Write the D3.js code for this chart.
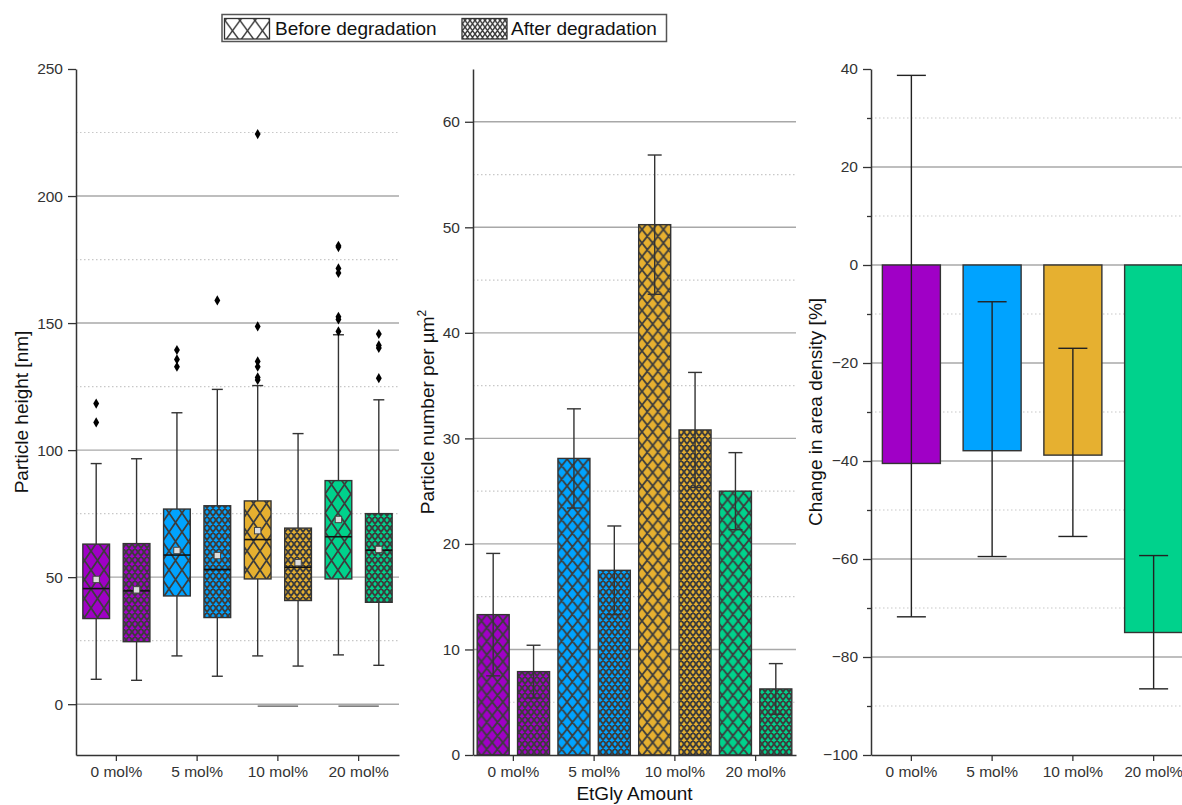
<!DOCTYPE html>
<html>
<head>
<meta charset="utf-8">
<script src="https://cdn.jsdelivr.net/npm/d3@7"></script>
<style>
  body { margin: 0; background: #fff; }
  svg { display: block; font-family: "Liberation Sans", Arial, sans-serif; }
</style>
</head>
<body>
<svg id="chart" width="1182" height="805"></svg>
<script>
// ---- data ----
const groups = ["0 mol%", "5 mol%", "10 mol%", "20 mol%"];
const series = ["Before degradation", "After degradation"];
const groupColors = ["#a000c6", "#00a3ff", "#e6b030", "#00d28c"];

// particle height box statistics [nm]
const whiskerLowBefore  = [9.8, 19.0, 19.0, 19.4];
const q1Before          = [33.7, 42.6, 49.3, 49.3];
const medianBefore      = [45.5, 58.7, 64.8, 65.9];
const meanBefore        = [49.1, 60.5, 68.3, 72.7];
const q3Before          = [63.0, 76.8, 80.0, 88.0];
const whiskerHighBefore = [94.7, 114.7, 125.4, 145.4];
const outliersBefore    = [[118.3, 110.9], [139.4, 135.7, 132.8],
                           [224.4, 148.7, 134.9, 132.8, 128.6, 127.6],
                           [180.4, 179.9, 171.5, 169.7, 152.5, 151.4, 146.7]];

const whiskerLowAfter   = [9.4, 11.0, 15.0, 15.3];
const q1After           = [24.6, 34.1, 40.8, 40.1];
const medianAfter       = [44.6, 53.0, 53.9, 60.6];
const meanAfter         = [45.0, 58.5, 55.7, 60.9];
const q3After           = [63.2, 78.1, 69.3, 75.0];
const whiskerHighAfter  = [96.6, 123.9, 106.5, 119.8];
const outliersAfter     = [[], [158.9], [], [145.7, 141.2, 140.2, 128.3]];

// low marks spanning the pair of boxes in a group
const lowMarkGroups = ["10 mol%", "20 mol%"];
const lowMarkValues = [-0.8, -0.8];

// particle number per µm²
const numberBefore    = [13.3, 28.1, 50.25, 25.0];
const numberBeforeErr = [5.8, 4.7, 6.6, 3.65];
const numberAfter     = [7.9, 17.5, 30.8, 6.26];
const numberAfterErr  = [2.5, 4.2, 5.45, 2.4];

// change in area density [%]
const changeValues = [-40.5, -37.9, -38.8, -75.0];
const changeLower  = [-71.8, -59.5, -55.4, -86.5];
const changeUpper  = [38.7, -7.5, -17.0, -59.3];

// axis ticks
const heightTicks = [0, 50, 100, 150, 200, 250];
const heightMinor = [25, 75, 125, 175, 225];
const numberTicks = [0, 10, 20, 30, 40, 50, 60];
const numberMinor = [5, 15, 25, 35, 45, 55];
const changeTicks = [-100, -80, -60, -40, -20, 0, 20, 40];
const changeMinor = [-90, -70, -50, -30, -10, 10, 30];

// ---- layout ----
const svg = d3.select("#chart");
const plotTop = 69, plotBottom = 755;
const ink = "#333";
const hatchInk = "#3c3c3c";
const fontTick = 15.5, fontTitle = 19;

// crossed hatch: two families of diagonal lines forming a w x h diamond lattice
const defs = svg.append("defs");
function hatch(id, color, w, h, lw) {
  const p = defs.append("pattern")
    .attr("id", id).attr("patternUnits", "userSpaceOnUse")
    .attr("width", w).attr("height", h);
  p.append("rect").attr("width", w).attr("height", h).attr("fill", color);
  let d = "";
  for (let k = -1; k <= 1; k++) {
    d += `M${k * w - w},${-h}L${k * w + 2 * w},${2 * h}`;
    d += `M${k * w + 2 * w},${-h}L${k * w - w},${2 * h}`;
  }
  p.append("path").attr("d", d)
    .attr("stroke", hatchInk).attr("stroke-width", lw).attr("fill", "none");
}
groupColors.forEach((c, i) => {
  hatch(`boxBefore${i}`, c, 13, 19, 1.8);
  hatch(`barBefore${i}`, c, 10.7, 13.5, 1.8);
  hatch(`after${i}`, c, 6, 8, 1.9);
});
hatch("legendBefore", "#fff", 15, 20.5, 1.5);
hatch("legendAfter", "#fff", 5, 6.8, 1.5);

function panel(x0, x1, yDomain, ticks, minor, title, titleX, minorTicks) {
  const g = svg.append("g");
  const x = d3.scaleBand().domain(groups).range([x0, x1]);
  const y = d3.scaleLinear().domain(yDomain).range([plotBottom, plotTop]);
  // grid
  g.append("g").selectAll("line").data(minor).join("line")
    .attr("x1", x0).attr("x2", x1).attr("y1", d => y(d)).attr("y2", d => y(d))
    .attr("stroke", "#c8c8c8").attr("stroke-width", 1.2).attr("stroke-dasharray", "1.5,2.5");
  g.append("g").selectAll("line").data(ticks.filter(t => t !== yDomain[0] && t !== yDomain[1])).join("line")
    .attr("x1", x0).attr("x2", x1).attr("y1", d => y(d)).attr("y2", d => y(d))
    .attr("stroke", "#a8a8a8").attr("stroke-width", 1.4);
  const marks = g.append("g");
  // axes
  g.append("g").attr("transform", `translate(${x0},0)`)
    .call(d3.axisLeft(y).tickValues(ticks).tickSize(8).tickSizeOuter(0).tickPadding(5));
  if (minorTicks) {
    g.append("g").attr("transform", `translate(${x0},0)`)
      .call(d3.axisLeft(y).tickValues(minor).tickSize(4).tickFormat(""))
      .call(a => a.select(".domain").remove());
  }
  g.append("g").attr("class", "x-axis").attr("transform", `translate(0,${plotBottom})`)
    .call(d3.axisBottom(x).tickSize(6).tickSizeOuter(0).tickPadding(5));
  g.selectAll(".domain").attr("stroke", ink).attr("stroke-width", 1.5);
  g.selectAll(".tick line").attr("stroke", ink).attr("stroke-width", 1.3);
  g.selectAll(".tick text").attr("fill", ink).attr("font-size", fontTick)
    .attr("font-family", "'Liberation Sans', Arial, sans-serif");
  g.append("text")
    .attr("transform", `translate(${titleX},${(plotTop + plotBottom) / 2}) rotate(-90)`)
    .attr("text-anchor", "middle").attr("dy", "0.35em")
    .attr("font-size", fontTitle).attr("fill", "#111")
    .html(title);
  return { root: g, g: marks, x, y };
}

// ---- panel 1: particle height box plots ----
{
  const { g, x, y } = panel(76, 399, [-20, 250], heightTicks, heightMinor,
    "Particle height [nm]", 21, false);
  const xs = d3.scaleBand().domain([0, 1]).range([0, x.bandwidth()]);
  const boxW = 26.7, capW = 11;
  const stats = [
    [whiskerLowBefore, q1Before, medianBefore, meanBefore, q3Before, whiskerHighBefore, outliersBefore],
    [whiskerLowAfter, q1After, medianAfter, meanAfter, q3After, whiskerHighAfter, outliersAfter]
  ];
  const boxes = [];
  groups.forEach((gr, i) => [0, 1].forEach(s => {
    const [wl, q1, md, mn, q3, wh, out] = stats[s];
    boxes.push({ gr, i, s, cx: x(gr) + xs(s) + xs.bandwidth() / 2,
      wl: wl[i], q1: q1[i], md: md[i], mn: mn[i], q3: q3[i], wh: wh[i], out: out[i] });
  }));
  const b = g.selectAll("g.box").data(boxes).join("g").attr("class", "box");
  // whiskers
  b.append("line").attr("x1", d => d.cx).attr("x2", d => d.cx)
    .attr("y1", d => y(d.wh)).attr("y2", d => y(d.q3)).attr("stroke", ink).attr("stroke-width", 1.4);
  b.append("line").attr("x1", d => d.cx).attr("x2", d => d.cx)
    .attr("y1", d => y(d.q1)).attr("y2", d => y(d.wl)).attr("stroke", ink).attr("stroke-width", 1.4);
  b.append("line").attr("x1", d => d.cx - capW / 2).attr("x2", d => d.cx + capW / 2)
    .attr("y1", d => y(d.wh)).attr("y2", d => y(d.wh)).attr("stroke", ink).attr("stroke-width", 1.4);
  b.append("line").attr("x1", d => d.cx - capW / 2).attr("x2", d => d.cx + capW / 2)
    .attr("y1", d => y(d.wl)).attr("y2", d => y(d.wl)).attr("stroke", ink).attr("stroke-width", 1.4);
  // box
  b.append("rect").attr("x", d => d.cx - boxW / 2).attr("width", boxW)
    .attr("y", d => y(d.q3)).attr("height", d => y(d.q1) - y(d.q3))
    .attr("fill", d => `url(#${d.s === 0 ? "boxBefore" : "after"}${d.i})`)
    .attr("stroke", ink).attr("stroke-width", 1.4);
  // median
  b.append("line").attr("x1", d => d.cx - boxW / 2).attr("x2", d => d.cx + boxW / 2)
    .attr("y1", d => y(d.md)).attr("y2", d => y(d.md)).attr("stroke", "#111").attr("stroke-width", 1.6);
  // mean
  b.append("rect").attr("x", d => d.cx - 3.2).attr("y", d => y(d.mn) - 3.2)
    .attr("width", 6.4).attr("height", 6.4)
    .attr("fill", "#ddd").attr("stroke", "#444").attr("stroke-width", 1);
  // outliers
  b.selectAll("path.out").data(d => d.out.map(v => ({ v, cx: d.cx }))).join("path")
    .attr("class", "out")
    .attr("d", d3.symbol(d3.symbolDiamond, 30))
    .attr("transform", d => `translate(${d.cx},${y(d.v)})`)
    .attr("fill", "#000");
  // low marks
  g.selectAll("line.low").data(lowMarkGroups).join("line").attr("class", "low")
    .attr("x1", d => x(d) + xs(0) + xs.bandwidth() / 2)
    .attr("x2", d => x(d) + xs(1) + xs.bandwidth() / 2)
    .attr("y1", (d, k) => y(lowMarkValues[k])).attr("y2", (d, k) => y(lowMarkValues[k]))
    .attr("stroke", "#555").attr("stroke-width", 1.3);
}

// ---- panel 2: particle number bars ----
{
  const { g, x, y } = panel(473, 796, [0, 65], numberTicks, numberMinor,
    "Particle number per µm<tspan dy='-8' font-size='12'>2</tspan>", 427, false);
  const xs = d3.scaleBand().domain([0, 1]).range([0, x.bandwidth()]);
  const barW = 32, capW = 14;
  const rows = [];
  groups.forEach((gr, i) => {
    rows.push({ i, s: 0, cx: x(gr) + xs(0) + xs.bandwidth() / 2, v: numberBefore[i], e: numberBeforeErr[i] });
    rows.push({ i, s: 1, cx: x(gr) + xs(1) + xs.bandwidth() / 2, v: numberAfter[i], e: numberAfterErr[i] });
  });
  g.selectAll("rect.bar").data(rows).join("rect").attr("class", "bar")
    .attr("x", d => d.cx - barW / 2).attr("width", barW)
    .attr("y", d => y(d.v)).attr("height", d => y(0) - y(d.v))
    .attr("fill", d => `url(#${d.s === 0 ? "barBefore" : "after"}${d.i})`)
    .attr("stroke", ink).attr("stroke-width", 1.4);
  const e = g.selectAll("g.err").data(rows).join("g").attr("class", "err")
    .attr("stroke", ink).attr("stroke-width", 1.4);
  e.append("line").attr("x1", d => d.cx).attr("x2", d => d.cx)
    .attr("y1", d => y(d.v + d.e)).attr("y2", d => y(d.v - d.e));
  e.append("line").attr("x1", d => d.cx - capW / 2).attr("x2", d => d.cx + capW / 2)
    .attr("y1", d => y(d.v + d.e)).attr("y2", d => y(d.v + d.e));
  e.append("line").attr("x1", d => d.cx - capW / 2).attr("x2", d => d.cx + capW / 2)
    .attr("y1", d => y(d.v - d.e)).attr("y2", d => y(d.v - d.e));
  svg.append("text").attr("x", (473 + 796) / 2).attr("y", 800)
    .attr("text-anchor", "middle").attr("font-size", fontTitle).attr("fill", "#111")
    .text("EtGly Amount");
}

// ---- panel 3: change in area density ----
{
  const { root, g, x, y } = panel(871, 1194, [-100, 40], changeTicks, changeMinor,
    "Change in area density [%]", 815, true);
  const barW = 58, capW = 29;
  const rows = groups.map((gr, i) => ({ i, cx: x(gr) + x.bandwidth() / 2,
    v: changeValues[i], lo: changeLower[i], hi: changeUpper[i] }));
  g.selectAll("rect.bar").data(rows).join("rect").attr("class", "bar")
    .attr("x", d => d.cx - barW / 2).attr("width", barW)
    .attr("y", y(0)).attr("height", d => y(d.v) - y(0))
    .attr("fill", d => groupColors[d.i]).attr("stroke", ink).attr("stroke-width", 1.4);
  const e = g.selectAll("g.err").data(rows).join("g").attr("class", "err")
    .attr("stroke", "#222").attr("stroke-width", 1.4);
  e.append("line").attr("x1", d => d.cx).attr("x2", d => d.cx)
    .attr("y1", d => y(d.hi)).attr("y2", d => y(d.lo));
  e.append("line").attr("x1", d => d.cx - capW / 2).attr("x2", d => d.cx + capW / 2)
    .attr("y1", d => y(d.hi)).attr("y2", d => y(d.hi));
  e.append("line").attr("x1", d => d.cx - capW / 2).attr("x2", d => d.cx + capW / 2)
    .attr("y1", d => y(d.lo)).attr("y2", d => y(d.lo));
  // keep the last category label inside the page
  root.select(".x-axis").selectAll(".tick text")
    .filter(d => d === groups[groups.length - 1]).attr("font-size", 15);
}

// ---- legend ----
{
  const lg = svg.append("g");
  lg.append("rect").attr("x", 222).attr("y", 14.5).attr("width", 444.5).attr("height", 27)
    .attr("fill", "#fff").attr("stroke", "#555").attr("stroke-width", 1.5);
  const items = [
    { label: series[0], fill: "url(#legendBefore)", sx: 224.5, tx: 275 },
    { label: series[1], fill: "url(#legendAfter)", sx: 462, tx: 511 }
  ];
  items.forEach(it => {
    lg.append("rect").attr("x", it.sx).attr("y", 18.5).attr("width", 45).attr("height", 20.5)
      .attr("fill", it.fill).attr("stroke", "#333").attr("stroke-width", 1.3);
    lg.append("text").attr("x", it.tx).attr("y", 28.5).attr("dy", "0.35em")
      .attr("font-size", 19).attr("fill", "#111").text(it.label);
  });
}
</script>
</body>
</html>
